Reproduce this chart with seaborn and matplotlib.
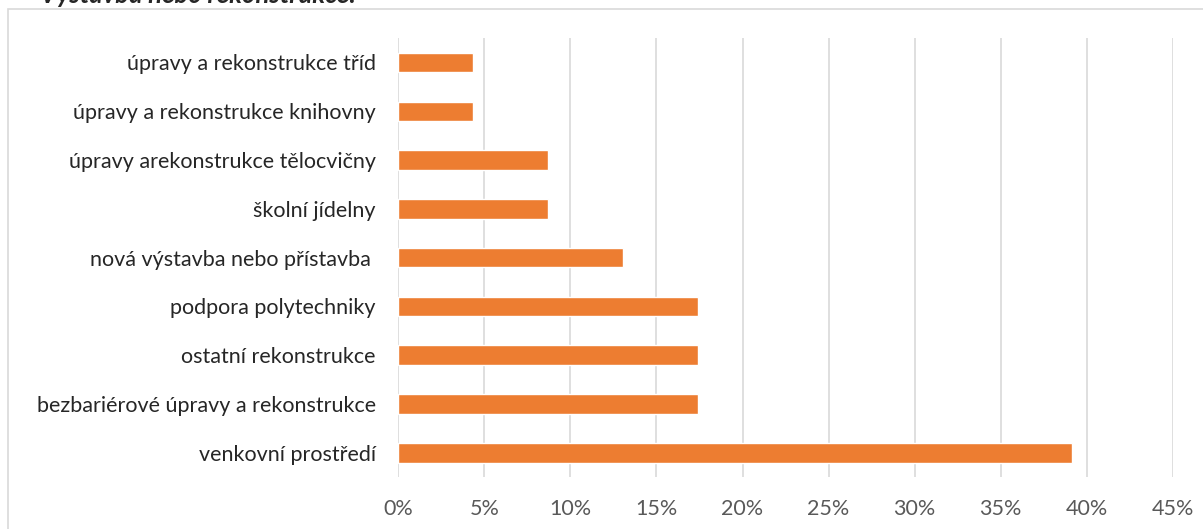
import pandas as pd
import seaborn as sns
import matplotlib.pyplot as plt
from matplotlib.patches import Rectangle
from matplotlib.ticker import PercentFormatter

# Data (shares of projects)
categories = [
    'úpravy a rekonstrukce tříd',
    'úpravy a rekonstrukce knihovny',
    'úpravy arekonstrukce tělocvičny',
    'školní jídelny',
    'nová výstavba nebo přístavba ',
    'podpora polytechniky',
    'ostatní rekonstrukce',
    'bezbariérové úpravy a rekonstrukce',
    'venkovní prostředí',
]
shares = [4.35, 4.35, 8.70, 8.70, 13.04, 17.39, 17.39, 17.39, 39.13]
x_ticks = [0, 5, 10, 15, 20, 25, 30, 35, 40, 45]

df = pd.DataFrame({'kategorie': categories, 'podil': shares})

sns.set_theme(style='white')
plt.rcParams['font.family'] = ['Lato', 'DejaVu Sans']

fig = plt.figure(figsize=(12.03, 5.29), dpi=100)
ax = fig.add_axes([0.331, 0.098, 0.644, 0.83])

sns.barplot(data=df, x='podil', y='kategorie', orient='h', color='#ED7D31',
            width=0.4, saturation=1, ax=ax)

ax.set_xlim(0, 45)
ax.set_ylim(8.5, -0.5)
ax.set_xticks(x_ticks)
ax.xaxis.set_major_formatter(PercentFormatter(decimals=0))
ax.grid(axis='x', color='#D9D9D9', linewidth=1.2)
ax.set_axisbelow(True)
for s in ax.spines.values():
    s.set_visible(False)
ax.set_xlabel('')
ax.set_ylabel('')
ax.tick_params(axis='x', length=0, pad=16, labelsize=15.5, labelcolor='#595959')
ax.tick_params(axis='y', length=0, pad=16, labelsize=15.5, labelcolor='#262626')

# chart frame and cut-off heading
fig.patches.append(Rectangle((8 / 1203, -0.1), 1.2, 1 - 9 / 529 + 0.1,
                             transform=fig.transFigure, fill=False,
                             edgecolor='#D9D9D9', linewidth=1.2))
fig.text(40 / 1203, 1.01, 'Výstavba nebo rekonstrukce:', fontsize=18.5,
         fontweight='bold', fontstyle='italic', color='#262626', va='center')

fig.savefig('out.png', dpi=100)
